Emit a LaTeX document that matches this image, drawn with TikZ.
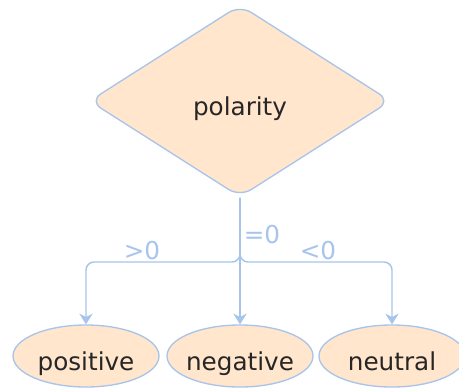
\documentclass[tikz,border=0pt]{standalone}
\usepackage{fontspec}
\setmainfont{DejaVu Sans}
\usetikzlibrary{shapes.geometric,arrows.meta,positioning}
\definecolor{cF}{HTML}{FFE6CC}
\definecolor{cB}{HTML}{A9C4EB}
\definecolor{cT}{HTML}{262626}
\tikzset{
  decision/.style={diamond,draw=cB,fill=cF,line width=1pt,rounded corners=10pt,aspect=1.58,
    minimum width=226pt,minimum height=144pt,inner sep=0pt,text=cT,
    text height=24pt,text depth=2pt},
  leaf/.style={ellipse,draw=cB,fill=cF,line width=1pt,minimum width=109.5pt,
    minimum height=46.5pt,inner ysep=0pt,inner xsep=-8pt,text=cT,
    text height=24pt,text depth=2pt},
  edge/.style={draw=cB,line width=1.1pt,rounded corners=6pt,
    -{Stealth[length=8pt,width=10pt,inset=2.5pt]}},
  cond/.style={text=cB,inner sep=0pt},
}

\begin{document}
\begin{tikzpicture}[x=0.75pt,y=-0.75pt,font=\fontsize{18.5}{22}\selectfont]
\useasboundingbox (0,0) rectangle (459,389);
% --- decision ---
\node[decision] (pol) at (240,101) {polarity};
% --- leaves ---
\node[leaf] (pos) at (86,356)  {positive};
\node[leaf] (neg) at (240,356) {negative};
\node[leaf] (neu) at (392,356) {neutral};
% --- branches ---
\coordinate (split) at (240,262);
\draw[edge] (pol.south) -- (split) -| (pos.north);
\draw[edge] (pol.south) -- (neg.north);
\draw[edge] (pol.south) -- (split) -| (neu.north);
\node[cond] (gt) at (142,251) {>0};
\node[cond] (eq) at (262,235) {=0};
\node[cond] (lt) at (318,251) {<0};
\end{tikzpicture}
\end{document}
